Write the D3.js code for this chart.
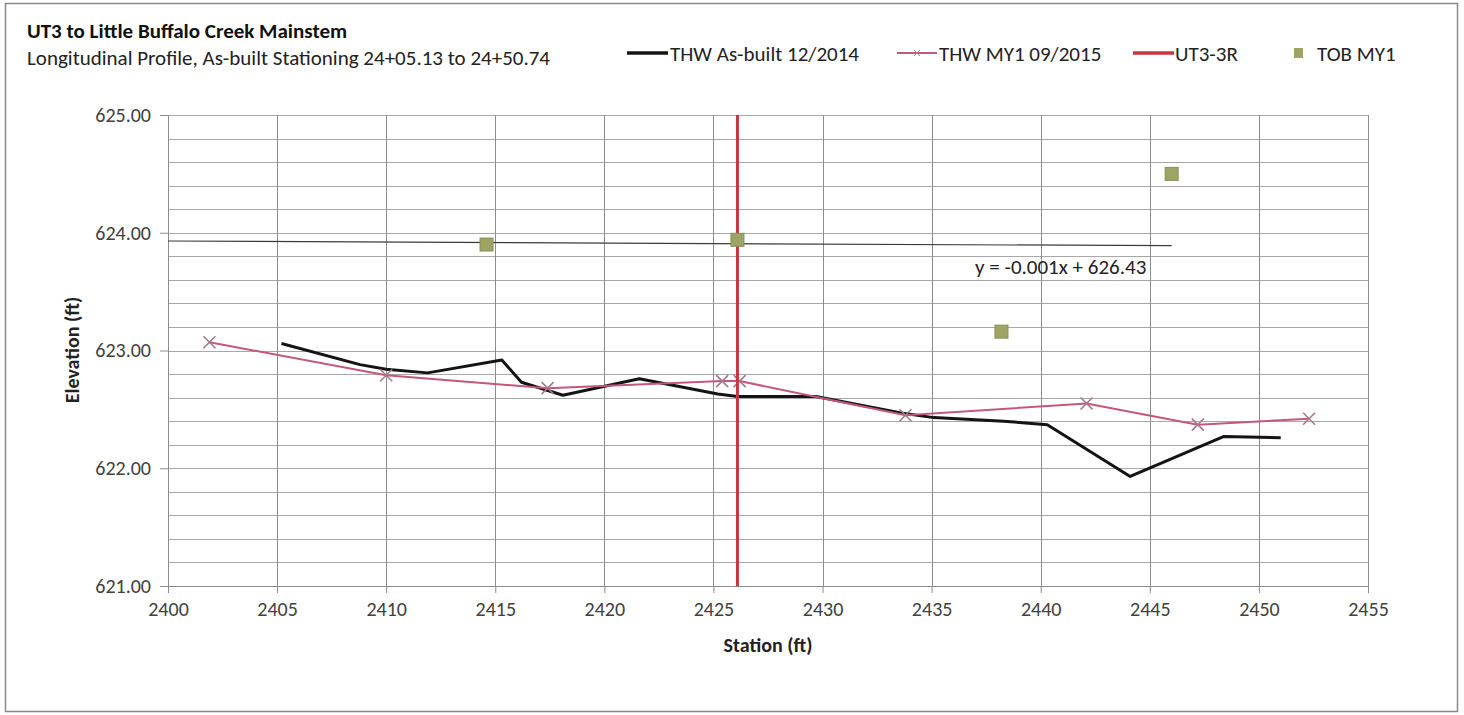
<!DOCTYPE html>
<html>
<head>
<meta charset="utf-8">
<script src="https://cdn.jsdelivr.net/npm/d3@7/dist/d3.min.js"></script>
<style>
  html, body { margin: 0; padding: 0; background: #fff; }
  svg { display: block; font-family: Carlito, Lato, "Liberation Sans", sans-serif; }
</style>
</head>
<body>
<svg id="chart" width="1464" height="715"></svg>
<script>
// ---------------- data ----------------
const titleText = "UT3 to Little Buffalo Creek Mainstem";
const subtitleText = "Longitudinal Profile, As-built Stationing 24+05.13 to 24+50.74";
const xTickValues = [2400, 2405, 2410, 2415, 2420, 2425, 2430, 2435, 2440, 2445, 2450, 2455];
const yTickValues = [621, 622, 623, 624, 625];

// THW As-built 12/2014
const asBuiltStation = [2405.2, 2408.8, 2410.0, 2411.9, 2415.3, 2416.2, 2418.1, 2421.6, 2425.2, 2426.1, 2429.7, 2433.6, 2435.1, 2438.3, 2440.3, 2444.1, 2448.4, 2451.0];
const asBuiltElev    = [623.06, 622.88, 622.84, 622.81, 622.92, 622.73, 622.62, 622.76, 622.63, 622.61, 622.61, 622.47, 622.43, 622.40, 622.37, 621.93, 622.27, 622.26];

// THW MY1 09/2015
const my1Station = [2401.9, 2410.0, 2417.4, 2425.4, 2426.2, 2433.8, 2442.1, 2447.2, 2452.3];
const my1Elev    = [623.07, 622.79, 622.68, 622.74, 622.74, 622.45, 622.55, 622.37, 622.42];

// UT3-3R (vertical marker)
const ut3Station = [2426.1, 2426.1];
const ut3Elev    = [621.0, 625.0];

// TOB MY1
const tobStation = [2414.6, 2426.1, 2438.2, 2446.0];
const tobElev    = [623.90, 623.94, 623.16, 624.50];

// Trendline of TOB MY1 (as drawn)
const trendStation = [2400.0, 2446.0];
const trendElev    = [623.93, 623.89];
const trendLabel = "y = -0.001x + 626.43";

const legendLabels = ["THW As-built 12/2014", "THW MY1 09/2015", "UT3-3R", "TOB MY1"];

// ---------------- layout ----------------
const svg = d3.select("#chart");
const x = d3.scaleLinear().domain([2400, 2455]).range([168, 1368]);
const y = d3.scaleLinear().domain([621, 625]).range([586, 115]);

const colBlack = "#141414", colPink = "#c4577a", colRed = "#c4383f", colTob = "#9ea466";
const textCol = "#404040";
const FONT = "Carlito, Lato, 'Liberation Sans', sans-serif";

// outer frame
svg.append("rect").attr("x", 5.5).attr("y", 3.5).attr("width", 1452).attr("height", 708)
  .attr("fill", "#fff").attr("stroke", "#8a8a8a").attr("stroke-width", 1.5);

// titles
svg.append("text").attr("x", 27).attr("y", 38).attr("font-size", 21).attr("font-weight", "bold")
  .attr("fill", "#111").text(titleText);
svg.append("text").attr("x", 27).attr("y", 65).attr("font-size", 21)
  .attr("fill", "#222").text(subtitleText);

// grid: horizontal minor every 0.2
const g = svg.append("g");
g.selectAll("line.hg").data(y.ticks(20)).join("line").attr("class", "hg")
  .attr("x1", x(2400)).attr("x2", x(2455))
  .attr("y1", d => Math.round(y(d)) + 0.5).attr("y2", d => Math.round(y(d)) + 0.5)
  .attr("stroke", "#a8a8a8").attr("stroke-width", 1);
// vertical grid
g.selectAll("line.vg").data(xTickValues).join("line").attr("class", "vg")
  .attr("x1", d => Math.round(x(d)) + 0.5).attr("x2", d => Math.round(x(d)) + 0.5)
  .attr("y1", y(625)).attr("y2", y(621))
  .attr("stroke", "#8c8c8c").attr("stroke-width", 1);

// axes
const yAxis = svg.append("g").attr("transform", `translate(${x(2400)},0)`)
  .call(d3.axisLeft(y).tickValues(yTickValues).tickFormat(d3.format(".2f")).tickSize(8).tickPadding(9));
const xAxis = svg.append("g").attr("transform", `translate(0,${y(621)})`)
  .call(d3.axisBottom(x).tickValues(xTickValues).tickFormat(d3.format("d")).tickSize(7).tickPadding(9));
[yAxis, xAxis].forEach(a => {
  a.select(".domain").attr("stroke", "#8c8c8c");
  a.selectAll(".tick line").attr("stroke", "#8c8c8c");
  a.selectAll(".tick text").attr("fill", textCol).attr("font-size", 20).attr("font-family", FONT);
});

// axis titles
svg.append("text").attr("transform", "translate(79,350) rotate(-90)").attr("text-anchor", "middle")
  .attr("font-size", 20).attr("font-weight", "bold").attr("fill", "#222").text("Elevation (ft)");
svg.append("text").attr("x", 768).attr("y", 652).attr("text-anchor", "middle")
  .attr("font-size", 20).attr("font-weight", "bold").attr("fill", "#222").text("Station (ft)");

// lines
const line = d3.line().x(d => x(d[0])).y(d => y(d[1]));
const asBuilt = asBuiltStation.map((s, i) => [s, asBuiltElev[i]]);
const my1 = my1Station.map((s, i) => [s, my1Elev[i]]);
const ut3 = ut3Station.map((s, i) => [s, ut3Elev[i]]);
const tob = tobStation.map((s, i) => [s, tobElev[i]]);
const trend = trendStation.map((s, i) => [s, trendElev[i]]);

svg.append("path").datum(trend).attr("d", line).attr("fill", "none")
  .attr("stroke", "#3a3a3a").attr("stroke-width", 1.2);

svg.append("path").datum(asBuilt).attr("d", line).attr("fill", "none")
  .attr("stroke", colBlack).attr("stroke-width", 3).attr("stroke-linejoin", "round");

svg.append("path").datum(my1).attr("d", line).attr("fill", "none")
  .attr("stroke", colPink).attr("stroke-width", 2);

const xm = 6;
svg.selectAll("path.xm").data(my1).join("path").attr("class", "xm")
  .attr("d", d => `M${x(d[0]) - xm},${y(d[1]) - xm}L${x(d[0]) + xm},${y(d[1]) + xm}M${x(d[0]) - xm},${y(d[1]) + xm}L${x(d[0]) + xm},${y(d[1]) - xm}`)
  .attr("stroke", "#a27a8c").attr("stroke-width", 1.6).attr("fill", "none");

svg.append("path").datum(ut3).attr("d", line).attr("fill", "none")
  .attr("stroke", colRed).attr("stroke-width", 3);

svg.selectAll("rect.tob").data(tob).join("rect").attr("class", "tob")
  .attr("x", d => x(d[0]) - 6.5).attr("y", d => y(d[1]) - 6.5).attr("width", 13).attr("height", 13)
  .attr("fill", colTob).attr("stroke", "#8a8f55").attr("stroke-width", 1);

svg.append("text").attr("x", 975).attr("y", 274).attr("font-size", 21).attr("fill", "#222").text(trendLabel);

// legend
const leg = svg.append("g").attr("font-size", 21).attr("fill", "#222");
const legY = 53;
// item 1
leg.append("line").attr("x1", 627).attr("x2", 668).attr("y1", legY).attr("y2", legY).attr("stroke", colBlack).attr("stroke-width", 3.5);
leg.append("text").attr("x", 670).attr("y", legY + 8).text(legendLabels[0]);
// item 2
leg.append("line").attr("x1", 897).attr("x2", 937).attr("y1", legY).attr("y2", legY).attr("stroke", colPink).attr("stroke-width", 2);
leg.append("path").attr("d", `M${917 - 3},${legY - 3}L${917 + 3},${legY + 3}M${917 - 3},${legY + 3}L${917 + 3},${legY - 3}`).attr("stroke", "#a27a8c").attr("stroke-width", 1);
leg.append("text").attr("x", 939).attr("y", legY + 8).text(legendLabels[1]);
// item 3
leg.append("line").attr("x1", 1133).attr("x2", 1174).attr("y1", legY).attr("y2", legY).attr("stroke", colRed).attr("stroke-width", 3.5);
leg.append("text").attr("x", 1175).attr("y", legY + 8).text(legendLabels[2]);
// item 4
leg.append("rect").attr("x", 1294).attr("y", legY - 5).attr("width", 9).attr("height", 10).attr("fill", colTob);
leg.append("text").attr("x", 1317).attr("y", legY + 8).text(legendLabels[3]);
</script>
</body>
</html>
